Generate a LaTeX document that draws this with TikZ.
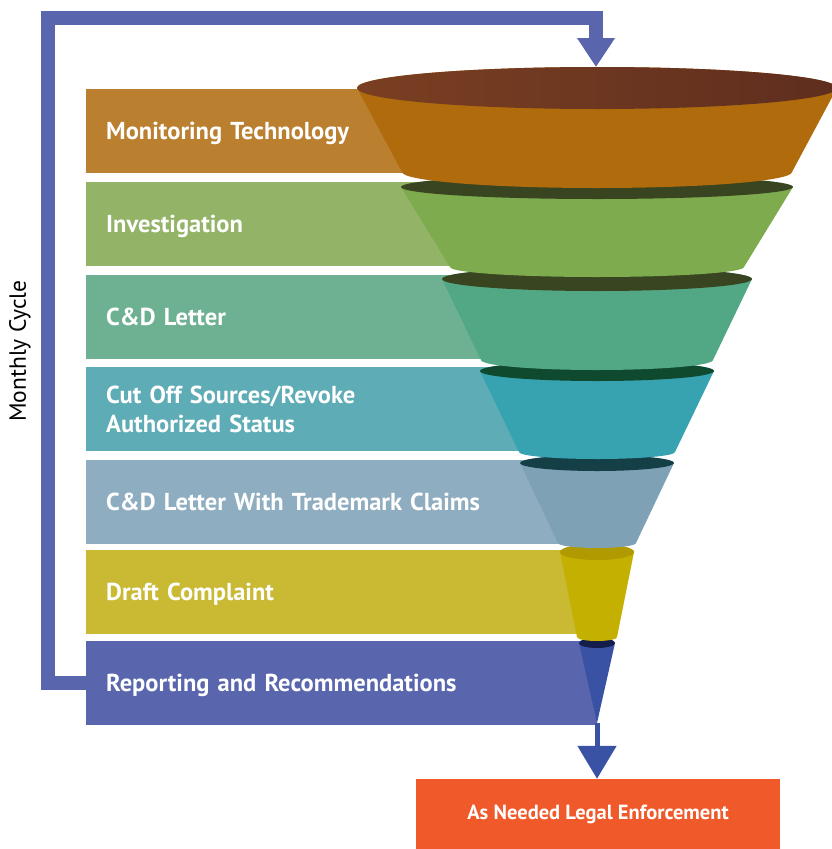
\documentclass[tikz,border=0pt]{standalone}
\usepackage{fontspec}
\setmainfont{PT Sans}
\usetikzlibrary{arrows.meta}

\definecolor{bandA}{HTML}{BB7F30}
\definecolor{bandB}{HTML}{93B366}
\definecolor{bandC}{HTML}{6DB192}
\definecolor{bandD}{HTML}{5EACB5}
\definecolor{bandE}{HTML}{8FADC0}
\definecolor{bandF}{HTML}{C9B933}
\definecolor{bandG}{HTML}{5965AD}
\definecolor{bodyA}{HTML}{B06C0C}
\definecolor{bodyB}{HTML}{7EAB4E}
\definecolor{bodyC}{HTML}{52A884}
\definecolor{bodyD}{HTML}{37A2B0}
\definecolor{bodyE}{HTML}{7EA1B5}
\definecolor{bodyF}{HTML}{C4B000}
\definecolor{bodyG}{HTML}{3A52A3}
\definecolor{rimB}{HTML}{384520}
\definecolor{rimD}{HTML}{0F4A2E}
\definecolor{rimE}{HTML}{153F47}
\definecolor{rimF}{HTML}{B09A00}
\definecolor{rimG}{HTML}{151D4A}
\definecolor{enforceRed}{HTML}{F05A2B}

\tikzset{
  band/.style={anchor=north west, inner xsep=20pt, inner ysep=0pt,
    minimum height=84pt, text width=471pt, align=left, text depth=0pt,
    text=white, font=\bfseries\fontsize{24.5}{29}\selectfont},
  loopline/.style={draw=bandG, line width=14pt,
    -{Triangle[width=36pt,length=29pt]}},
  downline/.style={draw=bodyG, line width=5pt,
    -{Triangle[width=38pt,length=33pt]}}
}

\begin{document}
\begin{tikzpicture}[x=1pt,y=-1pt]

    % --- Canvas ---
    \useasboundingbox (0,0) rectangle (832,849);

    % --- Bands behind the funnel ---
    \node[band, fill=bandA] (monitor) at (86,89) {Monitoring Technology};
    \node[band, fill=bandB] (invest) at (86,182) {Investigation};
    \node[band, fill=bandC] (cdletter) at (86,275) {C\&D Letter};
    \node[band, text depth=, fill=bandD] (cutoff) at (86,367) {Cut Off Sources/Revoke\\Authorized Status};
    \node[band, fill=bandE] (trademark) at (86,460) {C\&D Letter With Trademark Claims};
    \node[band, fill=bandF] (draft) at (86,550) {Draft Complaint};
    \node[band, fill=bandG] (report) at (86,641) {Reporting and Recommendations};

    % --- Funnel, drawn from the tip upwards ---
    % Bottom cone
    \fill[bodyG] (579,643) -- (597,723) -- (615,643) arc (0:-180:18 and 5) -- cycle;
    \fill[rimG] (597,643) ellipse (18 and 5);
    % Draft complaint cup
    \fill[bodyF] (560,552) -- (577,637) arc (180:0:20 and 4) -- (634,552) arc (0:-180:37 and 8) -- cycle;
    \fill[rimF] (597,552) ellipse (37 and 8);
    % Trademark claims ring
    \fill[bodyE] (520,463) -- (558,543) arc (180:0:39 and 5) -- (674,463) arc (0:-180:77 and 8) -- cycle;
    \fill[rimE] (597,463) ellipse (77 and 8);
    % Cut off sources ring
    \fill[bodyD] (480,371) -- (519,452) arc (180:0:78 and 7) -- (714,371) arc (0:-180:117 and 10) -- cycle;
    \fill[rimD] (597,371) ellipse (117 and 10);
    % C&D letter ring
    \fill[bodyC] (442,279) -- (481,360) arc (180:0:116 and 10) -- (752,279) arc (0:-180:155 and 12) -- cycle;
    \fill[rimB] (597,279) ellipse (155 and 12);
    % Investigation ring
    \fill[bodyB] (401,187) -- (450,267) arc (180:0:147 and 10) -- (793,187) arc (0:-180:196 and 12) -- cycle;
    \fill[rimB] (597,187) ellipse (196 and 12);
    % Top bowl
    \fill[bodyA] (357,88) -- (402,172) arc (180:0:195 and 16) -- (837,88) arc (0:-180:240 and 21) -- cycle;
    \shade[left color={rgb,255:red,122;green,63;blue,34}, right color={rgb,255:red,95;green,46;blue,30}]
      (597,88) ellipse (240 and 21);

    % --- Points for the arrows ---
    \coordinate (fTop) at (596,67);
    \coordinate (loopCorner) at (48,18);
    \coordinate (fTip) at (597,723);

    % --- Monthly loop back to the top ---
    \draw[loopline] (report.west) -| (loopCorner) -| (fTop);
    \node[rotate=90, font=\fontsize{23.5}{28}\selectfont] (cycle) at (20,351) {Monthly Cycle};

    % --- Way out at the bottom ---
    \node[fill=enforceRed, minimum width=364pt, minimum height=70pt, inner sep=0pt,
      text=white, font=\bfseries\fontsize{20.5}{24}\selectfont] (enforce) at (598,814)
      {As Needed Legal Enforcement};
    \draw[downline] (fTip) -- (enforce.north -| fTip);

\end{tikzpicture}
\end{document}
